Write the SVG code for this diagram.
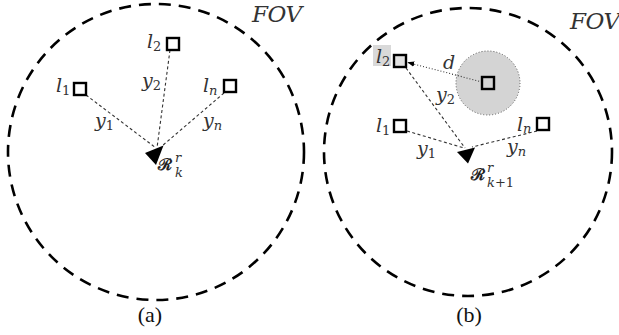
<svg xmlns="http://www.w3.org/2000/svg" width="619" height="335" viewBox="0 0 619 335">
<style>
.fov{fill:none;stroke:#000;stroke-width:2.6;stroke-dasharray:12 8}
.lm{fill:#fff;stroke:#000;stroke-width:2.4}
.dl{fill:none;stroke:#333;stroke-width:1.1;stroke-dasharray:3 2.5}
.dt{fill:none;stroke:#333;stroke-width:1.1;stroke-dasharray:1 2}
.m{font-family:"DejaVu Serif","Liberation Serif",serif;font-style:italic;fill:#333}
.L{font-size:19px}
.s{font-size:13px;font-style:normal}
.si{font-size:13px}
.R{font-family:"DejaVu Serif",serif;font-weight:bold;font-size:16px;fill:#222}
.cap{font-family:"Liberation Serif",serif;font-size:22px;fill:#111;text-anchor:middle}
</style>
<defs>
<marker id="ah" viewBox="0 0 10 10" refX="9" refY="5" markerWidth="7" markerHeight="7" orient="auto-start-reverse" markerUnits="userSpaceOnUse">
<path d="M0,1 L10,5 L0,9 Z" fill="#000"/>
</marker>
</defs>
<rect width="619" height="335" fill="#fff"/>

<g id="panel-a">
<g id="fov-a"><circle class="fov" cx="156" cy="152" r="148"/>
<text class="m" x="252" y="22" font-size="23" fill="#444" textLength="50">FOV</text></g>
<g id="connectors-a">
<line class="dl" x1="86" y1="95" x2="156" y2="148"/>
<line class="dl" x1="170" y1="50" x2="157" y2="148"/>
<line class="dl" x1="224" y1="93" x2="162" y2="146"/>
</g>
<g id="l1-a"><rect class="lm" x="74" y="83" width="12" height="12"/>
<text class="m L" x="56" y="92">l<tspan class="s" dy="3">1</tspan></text></g>
<g id="l2-a"><rect class="lm" x="167" y="38" width="12" height="12"/>
<text class="m L" x="147" y="48">l<tspan class="s" dy="3">2</tspan></text></g>
<g id="ln-a"><rect class="lm" x="224" y="80" width="12" height="12"/>
<text class="m L" x="203" y="92">l<tspan class="si" dy="3">n</tspan></text></g>
<g id="robot-a"><path d="M145,153 L163.5,145.5 L156,165 Z" fill="#000"/>
<text class="R" x="158" y="170">ℛ</text>
<text class="m si" x="175" y="162">r</text>
<text class="m si" x="175" y="177">k</text></g>
<g id="labels-a">
<text class="m L" x="95" y="127">y<tspan class="s" dy="3">1</tspan></text>
<text class="m L" x="142" y="87">y<tspan class="s" dy="3">2</tspan></text>
<text class="m L" x="203" y="127">y<tspan class="si" dy="3">n</tspan></text>
</g>
<text class="cap" x="150" y="322">(a)</text>
</g>

<g id="panel-b">
<g id="fov-b"><circle class="fov" cx="468" cy="152" r="144"/>
<text class="m" x="570" y="29" font-size="23" fill="#444" textLength="50">FOV</text></g>
<g id="region-d"><circle cx="488" cy="83" r="32" fill="#d4d4d4" stroke="#555" stroke-width="1" stroke-dasharray="1 2"/></g>
<g id="connectors-b">
<line class="dl" x1="406" y1="68" x2="465" y2="148"/>
<line class="dl" x1="407" y1="131" x2="464" y2="148"/>
<line class="dl" x1="537" y1="131" x2="472" y2="147"/>
<line class="dt" x1="482" y1="82" x2="408" y2="62.5" marker-end="url(#ah)"/>
</g>
<g id="l2-b"><rect x="373" y="45" width="18" height="21" fill="#d9d9d9"/>
<rect class="lm" x="394" y="55" width="12" height="12" style="fill:#e2e2e2"/>
<text class="m L" x="376" y="63">l<tspan class="s" dy="3">2</tspan></text></g>
<g id="d-landmark"><rect class="lm" x="482" y="77" width="12" height="12" style="fill:#d4d4d4"/>
<text class="m L" x="443" y="69">d</text></g>
<g id="l1-b"><rect class="lm" x="394" y="120" width="12" height="12"/>
<text class="m L" x="376" y="132">l<tspan class="s" dy="3">1</tspan></text></g>
<g id="ln-b"><rect class="lm" x="537" y="118" width="12" height="12"/>
<text class="m L" x="517" y="131">l<tspan class="si" dy="2">n</tspan></text></g>
<g id="robot-b"><path d="M457,152 L475,147.5 L468,163.5 Z" fill="#000"/>
<text class="R" x="471" y="180">ℛ</text>
<text class="m si" x="487" y="172">r</text>
<text class="m si" x="487" y="187">k<tspan class="s">+1</tspan></text></g>
<g id="labels-b">
<text class="m L" x="417" y="155">y<tspan class="s" dy="3">1</tspan></text>
<text class="m L" x="436" y="101">y<tspan class="s" dy="3">2</tspan></text>
<text class="m L" x="507" y="153">y<tspan class="si" dy="3">n</tspan></text>
</g>
<text class="cap" x="469" y="322">(b)</text>
</g>
</svg>
